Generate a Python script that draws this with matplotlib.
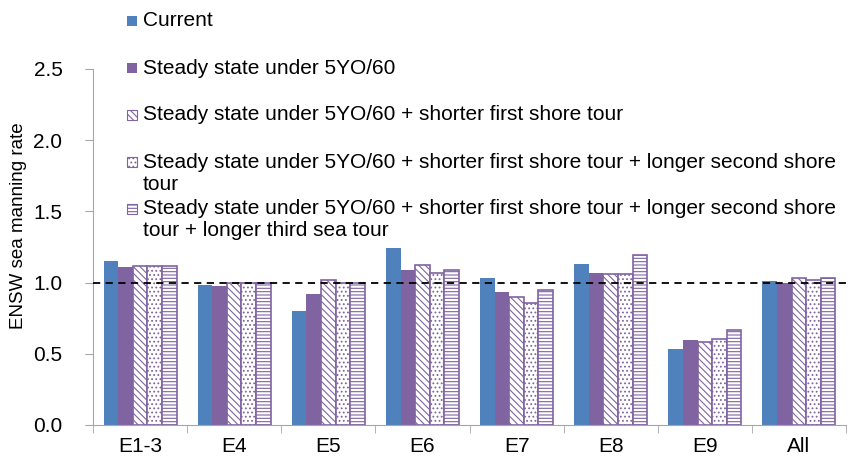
import numpy as np
import matplotlib
matplotlib.use("Agg")
import matplotlib.pyplot as plt
from matplotlib.patches import Rectangle

plt.rcParams['font.family'] = ['Liberation Sans', 'DejaVu Sans']
plt.rcParams['hatch.linewidth'] = 0.8

# data
categories = ['E1-3', 'E4', 'E5', 'E6', 'E7', 'E8', 'E9', 'All']
current = [1.15, 0.98, 0.80, 1.24, 1.03, 1.13, 0.535, 1.01]
steady = [1.11, 0.975, 0.92, 1.09, 0.935, 1.07, 0.60, 1.00]
shorter_first = [1.115, 1.0, 1.015, 1.125, 0.90, 1.06, 0.58, 1.03]
longer_second = [1.115, 1.0, 1.0, 1.07, 0.855, 1.06, 0.605, 1.015]
longer_third = [1.115, 1.0, 1.0, 1.085, 0.945, 1.195, 0.665, 1.03]

labels = ['Current',
          'Steady state under 5YO/60',
          'Steady state under 5YO/60 + shorter first shore tour',
          'Steady state under 5YO/60 + shorter first shore tour + longer second shore\ntour',
          'Steady state under 5YO/60 + shorter first shore tour + longer second shore\ntour + longer third sea tour']

blue = '#4F81BD'
purple = '#8064A2'
series = [current, steady, shorter_first, longer_second, longer_third]
styles = [dict(color=blue, edgecolor=blue, linewidth=0),
          dict(color=purple, edgecolor=purple, linewidth=0),
          dict(facecolor='white', edgecolor=purple, hatch='\\\\\\\\\\', linewidth=1.2),
          dict(facecolor='white', edgecolor=purple, hatch='....', linewidth=1.2),
          dict(facecolor='white', edgecolor=purple, hatch='-----', linewidth=1.2)]

W, H = 851, 457
fig = plt.figure(figsize=(W / 100, H / 100), dpi=100)
ax = fig.add_axes([93 / W, 1 - 425 / H, 753 / W, 356 / H])

x = np.arange(len(categories))
w = 0.155
for i, (vals, st) in enumerate(zip(series, styles)):
    ax.bar(x + (i - 2) * w, vals, w, zorder=2, **st)

ax.axhline(1.0, color='black', linestyle=(0, (4, 3)), linewidth=1.3, zorder=3)

ax.set_xlim(-0.5, len(categories) - 0.5)
ax.set_ylim(0, 2.5)
ax.set_yticks(np.arange(0, 2.51, 0.5))
ax.set_yticklabels(['%.1f' % v for v in np.arange(0, 2.51, 0.5)], fontsize=15)
ax.set_xticks(x)
ax.set_xticklabels(categories, fontsize=15)
ax.set_xticks(np.arange(-0.5, len(categories)), minor=True)
ax.tick_params(axis='x', which='major', length=0, pad=9)
ax.tick_params(axis='x', which='minor', length=6, color='#A6A6A6', direction='out')
ax.tick_params(axis='y', length=6, color='#A6A6A6', direction='out', pad=16)
for s in ['top', 'right']:
    ax.spines[s].set_visible(False)
for s in ['left', 'bottom']:
    ax.spines[s].set_color('#A6A6A6')
ax.set_ylabel('ENSW sea manning rate', fontsize=13.5)
ax.yaxis.set_label_coords(-0.087, 0.559)

# legend drawn by hand, Excel style: entries at even slots
def fx(px):
    return px / W

def fy(py):
    return 1 - py / H

for k, (lab, st) in enumerate(zip(labels, styles)):
    yc = 21 + k * 47
    fig.patches.append(Rectangle((fx(127), fy(yc + 5)), 10 / W, 10 / H,
                                 transform=fig.transFigure, zorder=5,
                                 **{**st, 'linewidth': min(st['linewidth'], 0.8)}))
    for j, line in enumerate(lab.split('\n')):
        fig.text(fx(143), fy(yc + j * 22), line, fontsize=15, va='center', ha='left')

fig.savefig('out.png', dpi=100)
